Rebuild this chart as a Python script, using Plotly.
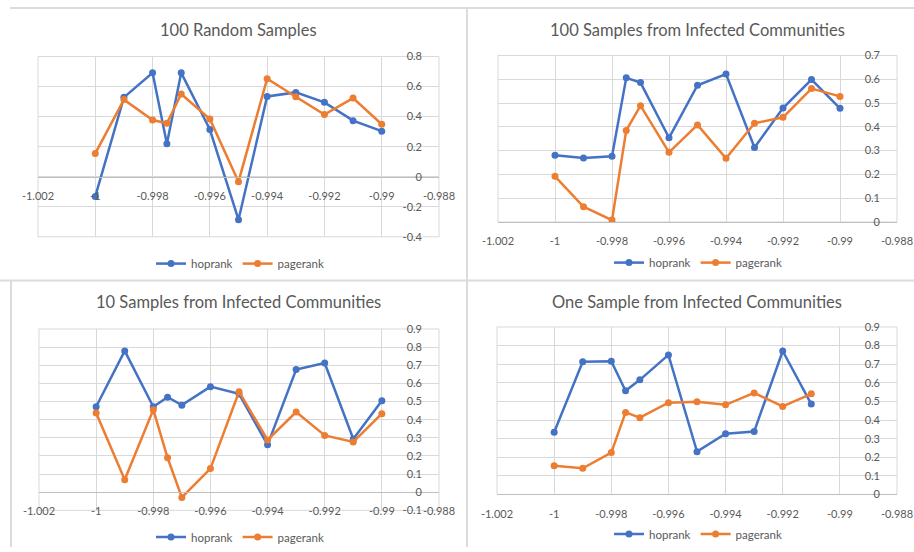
import plotly.graph_objects as go

# shared x positions
x_full = [-1, -0.999, -0.998, -0.9975, -0.997, -0.996, -0.995, -0.994, -0.993, -0.992, -0.991, -0.99]
x_one = x_full[:-1]

x_tickvals = [-1.002, -1, -0.998, -0.996, -0.994, -0.992, -0.99, -0.988]
x_ticktext = ["-1.002", "-1", "-0.998", "-0.996", "-0.994", "-0.992", "-0.99", "-0.988"]

titles = [
    "100 Random Samples",
    "100 Samples from Infected Communities",
    "10 Samples from Infected Communities",
    "One Sample from Infected Communities",
]

# 100 random samples
hop_random = [-0.131, 0.528, 0.691, 0.220, 0.691, 0.314, -0.286, 0.534, 0.561, 0.495, 0.373, 0.303]
page_random = [0.155, 0.513, 0.377, 0.356, 0.550, 0.384, -0.033, 0.652, 0.532, 0.414, 0.523, 0.349]

# 100 samples from infected communities
hop_100 = [0.281, 0.269, 0.276, 0.606, 0.586, 0.354, 0.575, 0.622, 0.313, 0.479, 0.599, 0.478]
page_100 = [0.192, 0.064, 0.008, 0.385, 0.489, 0.293, 0.408, 0.268, 0.415, 0.440, 0.561, 0.528]

# 10 samples from infected communities
hop_10 = [0.471, 0.779, 0.471, 0.524, 0.480, 0.582, 0.542, 0.261, 0.676, 0.712, 0.293, 0.504]
page_10 = [0.437, 0.069, 0.455, 0.190, -0.029, 0.130, 0.554, 0.288, 0.442, 0.313, 0.277, 0.433]

# one sample from infected communities
hop_one = [0.334, 0.713, 0.716, 0.557, 0.616, 0.750, 0.230, 0.327, 0.338, 0.771, 0.486]
page_one = [0.154, 0.141, 0.225, 0.441, 0.413, 0.493, 0.498, 0.482, 0.546, 0.473, 0.541]

y_ticks_random = [-0.4, -0.2, 0, 0.2, 0.4, 0.6, 0.8]
y_ticks_07 = [0, 0.1, 0.2, 0.3, 0.4, 0.5, 0.6, 0.7]
y_ticks_10 = [-0.1, 0, 0.1, 0.2, 0.3, 0.4, 0.5, 0.6, 0.7, 0.8, 0.9]
y_ticks_09 = [0, 0.1, 0.2, 0.3, 0.4, 0.5, 0.6, 0.7, 0.8, 0.9]

BLUE = "#4472C4"
ORANGE = "#ED7D31"
GRID = "#D9D9D9"
TEXT = "#595959"
FONT = "Lato"
W, H = 914, 552
EPS = 1e-7

panels = [
    # plot box in px (left, top, right, bottom), legend centre, title centre
    dict(x=x_full, hop=hop_random, page=page_random, yt=y_ticks_random,
         box=(38, 57, 439, 239), leg=(240, 266), title_pos=(238, 30)),
    dict(x=x_full, hop=hop_100, page=page_100, yt=y_ticks_07,
         box=(498, 56, 897, 224), leg=(698, 265), title_pos=(697, 30)),
    dict(x=x_full, hop=hop_10, page=page_10, yt=y_ticks_10,
         box=(39, 332, 439, 515), leg=(240, 542), title_pos=(238, 305)),
    dict(x=x_one, hop=hop_one, page=page_one, yt=y_ticks_09,
         box=(497, 330, 897, 499), leg=(698, 539), title_pos=(697, 305)),
]

fig = go.Figure()
layout = {}
annotations = []
shapes = []

for i, p in enumerate(panels, start=1):
    sfx = "" if i == 1 else str(i)
    leg = "legend" if i == 1 else f"legend{i}"
    l, t, r, b = p["box"]
    xd = [l / W, r / W]
    yd = [1 - b / H, 1 - t / H]
    ymin, ymax = p["yt"][0], p["yt"][-1]

    for name, vals, col in [("hoprank", p["hop"], BLUE), ("pagerank", p["page"], ORANGE)]:
        fig.add_trace(go.Scatter(
            x=p["x"], y=vals, name=name, mode="lines+markers",
            line=dict(color=col, width=2.5),
            marker=dict(color=col, size=7),
            xaxis=f"x{sfx}", yaxis=f"y{sfx}", legend=leg,
        ))

    # horizontal axis crosses at y = 0
    zero_pos = yd[0] + (0 - ymin) / (ymax - ymin) * (yd[1] - yd[0])
    layout[f"xaxis{sfx}"] = dict(
        domain=xd, range=[-1.002 - EPS, -0.988 + EPS],
        tickvals=x_tickvals, ticktext=x_ticktext,
        showgrid=True, gridcolor=GRID, gridwidth=1,
        showline=True, linecolor="#BFBFBF", linewidth=1,
        zeroline=False, ticks="", ticklabelstandoff=9,
        anchor="free", position=zero_pos, automargin=False,
        tickfont=dict(family=FONT, size=11, color=TEXT),
    )
    # value labels sit just inside the right edge of the plot
    layout[f"yaxis{sfx}"] = dict(
        domain=yd, range=[ymin - EPS, ymax + EPS],
        tickvals=p["yt"], ticktext=[f"{v:g}" for v in p["yt"]],
        showgrid=True, gridcolor=GRID, gridwidth=1,
        zeroline=False, showline=False, ticks="",
        side="left", anchor="free", position=(r - 17) / W, automargin=False,
        tickfont=dict(family=FONT, size=11, color=TEXT),
    )
    layout[leg] = dict(
        orientation="h", x=p["leg"][0] / W, y=1 - p["leg"][1] / H,
        xanchor="center", yanchor="middle", itemwidth=30,
        font=dict(family=FONT, size=11.5, color=TEXT),
        bgcolor="rgba(0,0,0,0)",
    )
    annotations.append(dict(
        text=titles[i - 1],
        x=p["title_pos"][0] / W, y=1 - p["title_pos"][1] / H,
        xref="paper", yref="paper", showarrow=False,
        xanchor="center", yanchor="middle",
        font=dict(family=FONT, size=16.5, color=TEXT),
    ))
    # plot-area frame
    shapes.append(dict(type="rect", xref="paper", yref="paper",
                       x0=xd[0], x1=xd[1], y0=yd[0], y1=yd[1],
                       line=dict(color=GRID, width=1), layer="below"))

# light separators from the screenshot grid
sep = dict(type="line", xref="paper", yref="paper", line=dict(color="#DCDCDC", width=2))
shapes += [
    dict(sep, x0=10 / W, x1=1, y0=1 - 8 / H, y1=1 - 8 / H),
    dict(sep, x0=0, x1=1, y0=1 - 283 / H, y1=1 - 283 / H),
    dict(sep, x0=467 / W, x1=467 / W, y0=0, y1=1 - 8 / H),
    dict(sep, x0=11 / W, x1=11 / W, y0=0, y1=1 - 283 / H),
]

fig.update_layout(
    **layout,
    annotations=annotations,
    shapes=shapes,
    width=W, height=H,
    margin=dict(l=0, r=0, t=0, b=0, pad=0),
    plot_bgcolor="white", paper_bgcolor="white",
    font=dict(family=FONT, color=TEXT),
    showlegend=True,
)

fig.write_html("out.html", config={"displayModeBar": False},
               post_script="document.body.style.margin='0';")
